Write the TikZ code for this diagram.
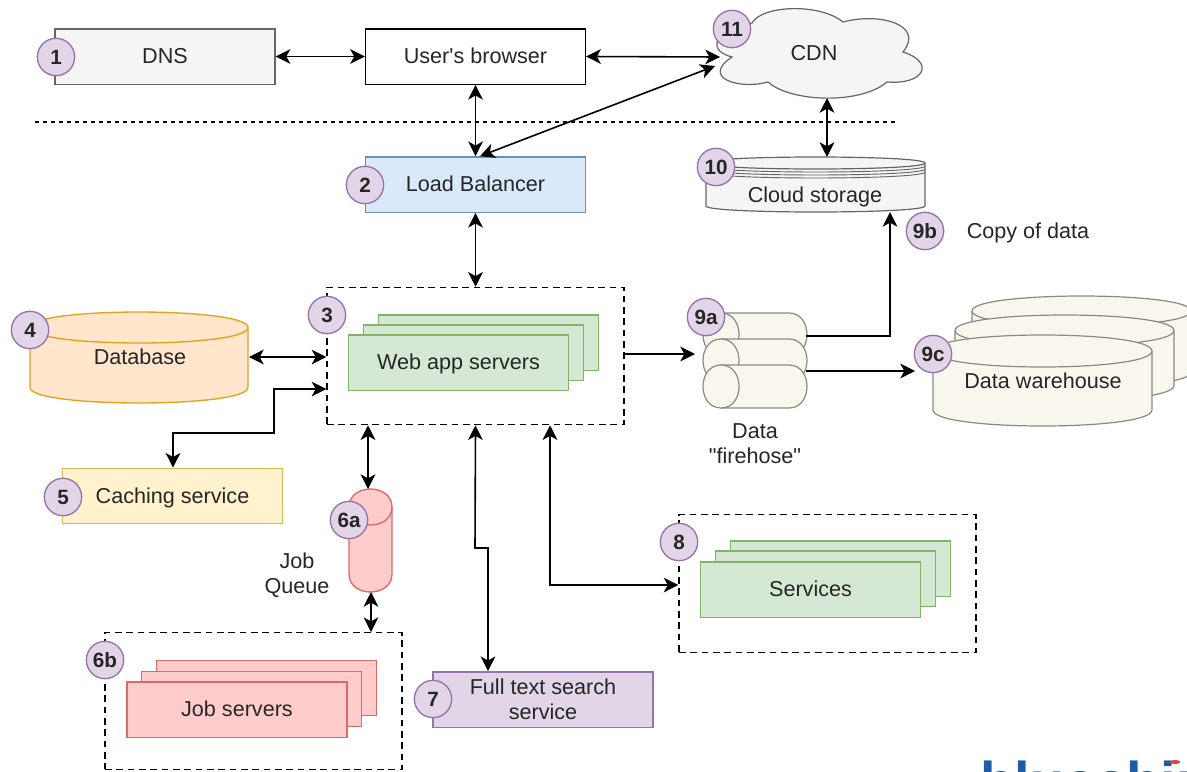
\documentclass[tikz,border=0pt]{standalone}
\usepackage{fontspec}
\setmainfont{Liberation Sans}[Ligatures=TeXOff]
\usetikzlibrary{arrows.meta}

\definecolor{grayFill}{HTML}{F5F5F5}
\definecolor{grayLine}{HTML}{666666}
\definecolor{blueFill}{HTML}{DAE8FC}
\definecolor{blueLine}{HTML}{6C8EBF}
\definecolor{greenFill}{HTML}{D5E8D4}
\definecolor{greenLine}{HTML}{82B366}
\definecolor{orangeFill}{HTML}{FFE6CC}
\definecolor{orangeLine}{HTML}{E3A21A}
\definecolor{yellowFill}{HTML}{FFF2CC}
\definecolor{yellowLine}{HTML}{D6B656}
\definecolor{redFill}{HTML}{FFCCCC}
\definecolor{redLine}{HTML}{D66A68}
\definecolor{purpleFill}{HTML}{E1D5E7}
\definecolor{purpleLine}{HTML}{9673A6}
\definecolor{creamFill}{HTML}{F9F7ED}
\definecolor{creamLine}{HTML}{8A8A80}
\definecolor{logoBlue}{HTML}{1F5CA8}
\definecolor{logoRed}{HTML}{D9433B}

% vertical drum: x left, x right, y top, y bottom, lid depth, style
\newcommand{\drum}[6]{
    \draw[#6] (#1,#3+#5/2) .. controls (#1,#3-#5/6) and (#2,#3-#5/6) .. (#2,#3+#5/2)
        -- (#2,#4-#5/2) .. controls (#2,#4+#5/6) and (#1,#4+#5/6) .. (#1,#4-#5/2) -- cycle;
    \draw[#6] (#1,#3+#5/2) .. controls (#1,#3+#5*7/6) and (#2,#3+#5*7/6) .. (#2,#3+#5/2);
}
% lying drum: x left, x right, y top, y bottom
\newcommand{\roll}[4]{
    \draw[rollline] (#1+18,#3) -- (#2-18,#3) .. controls (#2+6,#3) and (#2+6,#4) .. (#2-18,#4)
        -- (#1+18,#4) .. controls (#1-6,#4) and (#1-6,#3) .. (#1+18,#3) -- cycle;
    \draw[rollline] (#1+18,#3) .. controls (#1+42,#3) and (#1+42,#4) .. (#1+18,#4);
}

\begin{document}
\begin{tikzpicture}[x=0.75pt,y=-0.75pt,
        every node/.style={font=\fontsize{16.2}{19}\selectfont,text=black!85,align=center},
        box/.style={draw,line width=1pt,inner sep=0pt,minimum width=165pt,minimum height=41.5pt,
            text height=11.7pt,text depth=0.8pt},
        group/.style={draw,dashed,line width=0.9pt,dash pattern=on 5pt off 3.5pt,inner sep=0pt,
            minimum width=222.75pt,minimum height=103pt},
        badge/.style={circle,draw=purpleLine,fill=purpleFill,line width=1pt,inner sep=0pt,
            minimum size=28pt,font=\fontsize{15.5}{19}\selectfont\bfseries},
        link/.style={line width=1.2pt,black,{Stealth[length=11pt,width=11pt,inset=3pt]}-{Stealth[length=11pt,width=11pt,inset=3pt]}},
        oneway/.style={line width=1.2pt,black,-{Stealth[length=11pt,width=11pt,inset=3pt]}},
        rollline/.style={draw=creamLine,fill=creamFill,line width=0.9pt}]
    \useasboundingbox (0,0) rectangle (1187,771);

    \node[box,draw=grayLine,fill=grayFill] (dns) at (165,56.5) {DNS};
    \node[box,draw=black,fill=white] (browser) at (475.5,56.5) {User's browser};
    \node[box,draw=blueLine,fill=blueFill] (lb) at (475.5,184.5) {Load Balancer};

    % cloud
    \draw[draw=grayLine,fill=grayFill,line width=0.9pt] (732,57)
        .. controls (712,52) and (705,35) .. (752,23)
        .. controls (762,5) and (820,3) .. (843,22)
        .. controls (880,12) and (925,25) .. (903,52)
        .. controls (935,62) and (925,85) .. (887,82)
        .. controls (860,105) and (790,102) .. (768,82)
        .. controls (740,90) and (700,78) .. (732,57) -- cycle;
    \node (cdn) at (814,53) {CDN};
    \coordinate (cdnLeft) at (720,57);
    \coordinate (cdnDiag) at (715,66);
    \coordinate (cdnBot) at (827,98);

    % storage
    \drum{706}{925}{157}{212}{12}{draw=grayLine,fill=grayFill,line width=0.9pt}
    \foreach \k in {3,6,9}
        \draw[grayLine,line width=0.7pt] (706,163+\k) .. controls (706,171+\k) and (925,171+\k) .. (925,163+\k);
    \node (store) at (815,197) {Cloud storage};
    \coordinate (storeTop) at (827,157);
    \coordinate (storeBot) at (890,212);

    \node (copy) at (1028,233) {Copy of data};

    \draw[dashed,line width=0.9pt] (35,122) -- (898,122);

    % web group
    \node[group] (web) at (475.5,356) {};
    \foreach \n/\x/\y in {c/488.5/342.5,b/473.5/352.5}
        \node[box,draw=greenLine,fill=greenFill] (web\n) at (\x,\y) {};
    \node[box,draw=greenLine,fill=greenFill] (weba) at (458.5,362.5) {Web app servers};

    % database
    \drum{30}{248}{312}{403}{31}{draw=orangeLine,fill=orangeFill,line width=1pt}
    \node (db) at (140,357) {Database};
    \coordinate (dbRight) at (249,357);

    \node[box,draw=yellowLine,fill=yellowFill] (cache) at (172.5,496) {Caching service};

    % job queue
    \drum{349}{392}{489}{592}{36}{draw=redLine,fill=redFill,line width=1pt}
    \coordinate (queueTop) at (368,489);
    \coordinate (queueBot) at (371,592);
    \node (queue) at (297,575) {Job\\Queue};

    \node[group,minimum height=102.5pt] (jobs) at (253.5,701) {};
    \foreach \n/\x/\y in {c/266.5/688,b/251.5/699}
        \node[box,draw=redLine,fill=redFill] (job\n) at (\x,\y) {};
    \node[box,draw=redLine,fill=redFill] (joba) at (237,709.5) {Job servers};

    \node[box,text height=,text depth=,draw=purpleLine,fill=purpleFill] (search) at (543,699.5) {Full text search\\service};

    \node[group] (services) at (827.5,583.5) {};
    \foreach \n/\x/\y in {c/840.5/568.5,b/825.5/578.5}
        \node[box,draw=greenLine,fill=greenFill] (serv\n) at (\x,\y) {};
    \node[box,draw=greenLine,fill=greenFill] (serva) at (810.5,589.5) {Services};

    % firehose
    \roll{703}{807}{313}{356}
    \roll{703}{807}{339}{382}
    \roll{703}{807}{365}{408}
    \node (hose) at (755,444) {Data\\"firehose"};
    \coordinate (hoseLeft) at (695,354);
    \coordinate (hoseTop) at (806,336);
    \coordinate (hoseBot) at (806,371);

    % warehouse
    \begin{scope}
        \clip (0,0) rectangle (1187,771);
        \drum{972}{1191}{296}{387}{30}{draw=creamLine,fill=creamFill,line width=0.9pt}
        \drum{955}{1174}{315}{401}{31}{draw=creamLine,fill=creamFill,line width=0.9pt}
        \drum{933}{1152}{335}{426}{32}{draw=creamLine,fill=creamFill,line width=0.9pt}
        \node[text=logoBlue,font=\fontsize{42}{42}\selectfont\bfseries,anchor=base west,inner sep=0pt] (logo) at (980,801) {bluechip};
        \fill[logoRed] (1175,762) ellipse (4pt and 1.5pt);
    \end{scope}
    \node (dw) at (1043,381) {Data warehouse};
    \coordinate (dwLeft) at (915,371);

    % connectors
    \draw[link] (dns) -- (browser);
    \draw[link] (browser.east) -- (cdnLeft);
    \draw[link] (browser) -- (browser |- lb.north);
    \draw[link] (lb.north -| 480,0) -- (cdnDiag);
    \draw[link] (cdnBot) -- (storeTop);
    \draw[link] (lb) -- (web);
    \draw[link] (dbRight) -- (web.west |- dbRight);
    \draw[link] (cache.north -| 173,0) -- (173,433) -- (274,433) -- (274,389) -- (web.west |- 0,389);
    \draw[link] (web.south -| queueTop) -- (queueTop);
    \draw[link] (queueBot) -- (jobs.north -| queueBot);
    \draw[link] (web.south) -- (475,548) -- (488,548) -- (search.north -| 488,0);
    \draw[link] (web.south -| 550,0) -- (550,585) -- (services.west |- 0,585);
    \draw[oneway] (web.east |- hoseLeft) -- (hoseLeft);
    \draw[oneway] (hoseTop) -- (890,336) -- (storeBot);
    \draw[oneway] (hoseBot) -- (dwLeft);

    \foreach \name/\x/\y in {1/56/57,2/365/185,3/327/315,4/30/330,5/63/497,6a/349/520,6b/105/660,
            7/433/699,8/679/542,9a/706/317,9b/925/231,9c/933/354,10/716/167,11/732/29}
        \node[badge] (badge\name) at (\x,\y) {\name};
\end{tikzpicture}
\end{document}
